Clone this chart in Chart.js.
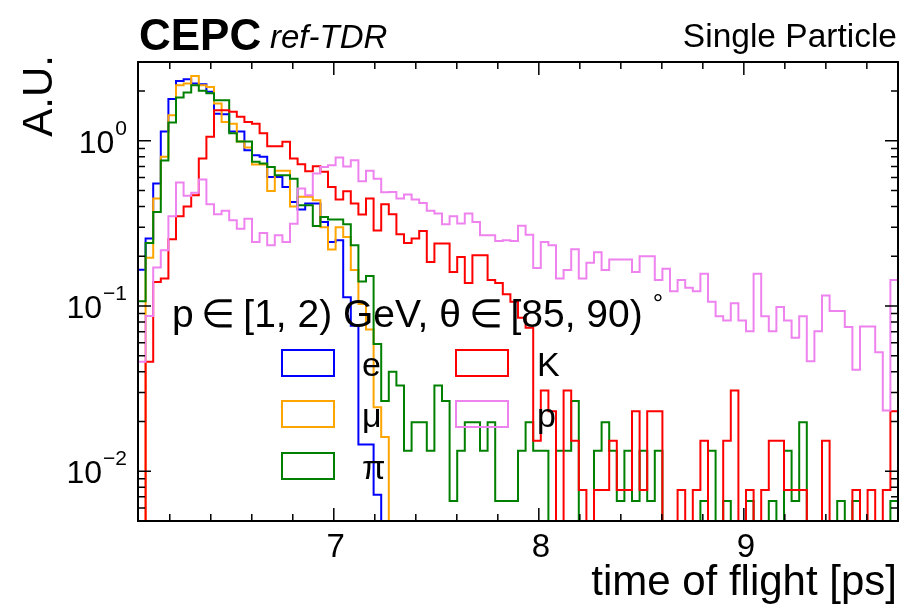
<!DOCTYPE html>
<html>
<head>
<meta charset="utf-8">
<title>Time of flight</title>
<script src="https://cdn.jsdelivr.net/npm/chart.js@4.4.1/dist/chart.umd.min.js"></script>
<style>
    html, body { margin: 0; padding: 0; background: #fff; }
    #wrap { width: 905px; height: 606px; }
</style>
</head>
<body>
<div id="wrap"><canvas id="tofChart" width="905" height="606"></canvas></div>
<script>
// Histogram binning (time of flight, ps)
const X_MIN = 6.045;
const X_MAX = 9.752;
const N_BINS = 100;

// Bin contents, one value per bin
const eValues = [
    0.166, 0.256, 0.552, 1.14, 1.79, 2.30, 2.36, 2.22, 2.20, 1.98,
    1.46, 1.45, 1.14, 1.14, 0.878, 0.819, 0.80, 0.605, 0.605, 0.526,
    0.427, 0.384, 0.417, 0.417, 0.323, 0.244, 0.25, 0.113, 0.076, 0.0145,
    0.0145, 0.0072, 0, 0, 0, 0, 0, 0, 0, 0,
    0, 0, 0, 0, 0, 0, 0, 0, 0, 0,
    0, 0, 0, 0, 0, 0, 0, 0, 0, 0,
    0, 0, 0, 0, 0, 0, 0, 0, 0, 0,
    0, 0, 0, 0, 0, 0, 0, 0, 0, 0,
    0, 0, 0, 0, 0, 0, 0, 0, 0, 0,
    0, 0, 0, 0, 0, 0, 0, 0, 0, 0
];
const muValues = [
    0, 0.196, 0.447, 0.80, 1.43, 2.17, 2.22, 2.47, 2.17, 2.12,
    1.68, 1.30, 1.27, 0.99, 0.91, 0.72, 0.72, 0.497, 0.66, 0.66,
    0.40, 0.458, 0.458, 0.437, 0.30, 0.22, 0.30, 0.262, 0.165, 0.103,
    0.072, 0.0244, 0.0161, 0, 0, 0, 0, 0, 0, 0,
    0, 0, 0, 0, 0, 0, 0, 0, 0, 0,
    0, 0, 0, 0, 0, 0, 0, 0, 0, 0,
    0, 0, 0, 0, 0, 0, 0, 0, 0, 0,
    0, 0, 0, 0, 0, 0, 0, 0, 0, 0,
    0, 0, 0, 0, 0, 0, 0, 0, 0, 0,
    0, 0, 0, 0, 0, 0, 0, 0, 0, 0
];
const piValues = [
    0.107, 0.241, 0.371, 0.76, 1.29, 1.83, 1.96, 2.17, 2.01, 1.94,
    1.76, 1.76, 1.11, 0.99, 0.99, 0.746, 0.73, 0.695, 0.62, 0.62,
    0.59, 0.408, 0.408, 0.305, 0.346, 0.334, 0.334, 0.313, 0.233, 0.141,
    0.152, 0.059, 0.0266, 0.040, 0.033, 0.0133, 0.0198, 0.0198, 0.0133, 0.033,
    0.0266, 0.0066, 0.0133, 0.0198, 0.0198, 0.0133, 0.0198, 0.0066, 0.0066, 0.0066,
    0.0133, 0.0198, 0.0133, 0.0133, 0, 0.0133, 0.0133, 0.0266, 0, 0,
    0.0133, 0.0198, 0.0133, 0.0066, 0.0133, 0.0066, 0.0133, 0.0066, 0.0133, 0,
    0, 0, 0, 0, 0.0066, 0.0133, 0, 0.0066, 0, 0,
    0.0066, 0, 0, 0.0066, 0, 0.0133, 0.0066, 0.0198, 0, 0,
    0, 0, 0.0066, 0, 0.0066, 0, 0, 0, 0, 0.0066
];
const kValues = [
    0, 0.046, 0.14, 0.147, 0.254, 0.35, 0.40, 0.469, 0.782, 1.06,
    1.53, 1.53, 1.50, 1.40, 1.30, 1.27, 1.11, 0.928, 0.928, 0.986,
    0.782, 0.722, 0.655, 0.702, 0.649, 0.526, 0.441, 0.495, 0.417, 0.358,
    0.447, 0.287, 0.413, 0.359, 0.272, 0.241, 0.256, 0.285, 0.185, 0.239,
    0.239, 0.161, 0.198, 0.138, 0.203, 0.203, 0.144, 0.138, 0.118, 0.106,
    0.085, 0.074, 0.0153, 0.0308, 0.0231, 0, 0.0308, 0.0153, 0.0077, 0,
    0.0077, 0.0077, 0.0153, 0.0077, 0.0077, 0.0231, 0.0077, 0.0231, 0.0231, 0,
    0, 0.0077, 0, 0.0077, 0.0153, 0, 0, 0.0153, 0.0308, 0,
    0.0077, 0, 0.0077, 0.0153, 0.0153, 0.0077, 0.0077, 0.0077, 0, 0,
    0.0153, 0, 0, 0, 0.0077, 0, 0.0077, 0, 0.0077, 0.0231
];
const pValues = [
    0.046, 0.087, 0.171, 0.218, 0.35, 0.56, 0.465, 0.485, 0.583, 0.413,
    0.36, 0.377, 0.331, 0.294, 0.338, 0.244, 0.277, 0.233, 0.268, 0.244,
    0.315, 0.514, 0.469, 0.634, 0.695, 0.712, 0.792, 0.70, 0.763, 0.57,
    0.66, 0.59, 0.488, 0.49, 0.447, 0.473, 0.441, 0.421, 0.377, 0.363,
    0.313, 0.35, 0.316, 0.363, 0.323, 0.268, 0.268, 0.248, 0.25, 0.248,
    0.306, 0.27, 0.17, 0.244, 0.233, 0.147, 0.165, 0.221, 0.147, 0.183,
    0.212, 0.165, 0.191, 0.191, 0.191, 0.161, 0.2, 0.2, 0.144, 0.168,
    0.123, 0.144, 0.129, 0.123, 0.157, 0.106, 0.0866, 0.0818, 0.104, 0.0818,
    0.0705, 0.157, 0.0866, 0.0705, 0.0986, 0.0818, 0.0643, 0.0866, 0.0464, 0.0705,
    0.116, 0.0933, 0.0933, 0.0746, 0.0411, 0.0753, 0.0753, 0.0526, 0.0233, 0.144
];

// Axis ticks
const xMajorTicks = [7, 8, 9];
const yMajorExponents = [-2, -1, 0];
const Y_MIN = 0.005;
const Y_MAX = 3;

const FONT = '"Liberation Sans", Arial, Helvetica, sans-serif';
const EMPTY_BIN = 1e-5; // empty bins fall below the frame, like ROOT

// Build step points: each bin edge carries the bin value
function histPoints(values) {
    const w = (X_MAX - X_MIN) / N_BINS;
    const pts = values.map((v, i) => ({ x: X_MIN + i * w, y: v > 0 ? v : EMPTY_BIN }));
    pts.push({ x: X_MAX, y: pts[pts.length - 1].y });
    return pts;
}

function histDataset(label, values, color, order) {
    return {
        label: label,
        data: histPoints(values),
        borderColor: color,
        backgroundColor: color,
        borderWidth: 2,
        stepped: 'before',
        pointRadius: 0,
        fill: false,
        order: order,
        clip: 0,
        borderJoinStyle: 'miter'
    };
}

// Frame, ticks, labels and legend in ROOT style
const rootStyle = {
    id: 'rootStyle',
    afterDraw(chart) {
        const ctx = chart.ctx;
        const a = chart.chartArea;
        const xs = chart.scales.x;
        const ys = chart.scales.y;
        ctx.save();

        // ticks on all four sides, pointing inwards
        ctx.strokeStyle = '#000';
        ctx.lineWidth = 1.5;
        ctx.beginPath();
        for (let k = 31; k <= 48; k++) {
            const t = k / 5;
            if (t <= X_MIN || t >= X_MAX) continue;
            const px = xs.getPixelForValue(t);
            const len = (k % 5 === 0) ? 13 : 7;
            ctx.moveTo(px, a.bottom); ctx.lineTo(px, a.bottom - len);
            ctx.moveTo(px, a.top); ctx.lineTo(px, a.top + len);
        }
        for (let e = -3; e <= 0; e++) {
            for (let m = 1; m <= 9; m++) {
                const v = m * Math.pow(10, e);
                if (v <= Y_MIN * 0.999 || v >= Y_MAX * 0.999) continue;
                const py = ys.getPixelForValue(v);
                const len = (m === 1) ? 13 : 7;
                ctx.moveTo(a.left, py); ctx.lineTo(a.left + len, py);
                ctx.moveTo(a.right, py); ctx.lineTo(a.right - len, py);
            }
        }
        ctx.stroke();

        // frame
        ctx.lineWidth = 2;
        ctx.strokeRect(a.left, a.top, a.right - a.left, a.bottom - a.top);

        // x tick labels
        ctx.fillStyle = '#000';
        ctx.font = '33px ' + FONT;
        ctx.textAlign = 'center';
        ctx.textBaseline = 'alphabetic';
        xMajorTicks.forEach(t => {
            ctx.fillText(String(t), xs.getPixelForValue(t) + 2, 557);
        });

        // y tick labels 10^n
        yMajorExponents.forEach(n => {
            const py = ys.getPixelForValue(Math.pow(10, n));
            const expText = n < 0 ? '\u2212' + Math.abs(n) : String(n);
            ctx.font = '21px ' + FONT;
            ctx.textAlign = 'right';
            const expW = ctx.measureText(expText).width;
            ctx.fillText(expText, 127, py - 6);
            ctx.font = '32px ' + FONT;
            ctx.fillText('10', 127 - expW - 1, py + 12);
        });

        // axis titles
        ctx.font = '42px ' + FONT;
        ctx.textAlign = 'right';
        ctx.fillText('time of flight [ps]', 897, 595);
        ctx.save();
        ctx.translate(52, 55);
        ctx.rotate(-Math.PI / 2);
        ctx.fillText('A.U.', 0, 0);
        ctx.restore();

        // header
        ctx.textAlign = 'left';
        ctx.font = 'bold 44px ' + FONT;
        ctx.fillText('CEPC', 139, 50);
        ctx.font = 'italic 33px ' + FONT;
        ctx.fillText('ref-TDR', 270, 48);
        ctx.textAlign = 'right';
        ctx.font = '33.5px ' + FONT;
        ctx.fillText('Single Particle', 897, 47);

        // legend header
        ctx.textAlign = 'left';
        ctx.font = '39px ' + FONT;
        const head = 'p\u2009\u2208\u2009[1, 2) GeV, \u03b8\u2009\u2208\u2009[85, 90)';
        ctx.fillText(head, 172, 327);
        const headW = ctx.measureText(head).width;
        ctx.font = '26px ' + FONT;
        ctx.fillText('\u00b0', 172 + headW + 10, 312);

        // legend entries
        const entries = [
            { ds: 0, x: 282, top: 350, tx: 362, base: 376 },
            { ds: 1, x: 282, top: 401, tx: 362, base: 427 },
            { ds: 2, x: 282, top: 453, tx: 362, base: 479 },
            { ds: 3, x: 456, top: 350, tx: 537, base: 376 },
            { ds: 4, x: 456, top: 401, tx: 537, base: 427 }
        ];
        ctx.font = '34px ' + FONT;
        ctx.lineWidth = 2;
        entries.forEach(en => {
            const ds = chart.data.datasets[en.ds];
            ctx.strokeStyle = ds.borderColor;
            ctx.strokeRect(en.x, en.top, 52, 26);
            ctx.fillStyle = '#000';
            ctx.fillText(ds.label, en.tx, en.base);
        });

        ctx.restore();
    }
};

const tofChart = new Chart(document.getElementById('tofChart').getContext('2d'), {
    type: 'line',
    data: {
        datasets: [
            histDataset('e', eValues, '#0000ff', 5),
            histDataset('\u03bc', muValues, '#ffa500', 4),
            histDataset('\u03c0', piValues, '#008000', 3),
            histDataset('K', kValues, '#ff0000', 2),
            histDataset('p', pValues, '#ee82ee', 1)
        ]
    },
    options: {
        responsive: false,
        animation: false,
        devicePixelRatio: 1,
        layout: { padding: { left: 138, right: 7, top: 62, bottom: 85 } },
        scales: {
            x: { type: 'linear', min: X_MIN, max: X_MAX, display: false },
            y: { type: 'logarithmic', min: Y_MIN, max: Y_MAX, display: false }
        },
        plugins: {
            legend: { display: false },
            tooltip: { enabled: false }
        }
    },
    plugins: [rootStyle]
});
</script>
</body>
</html>
